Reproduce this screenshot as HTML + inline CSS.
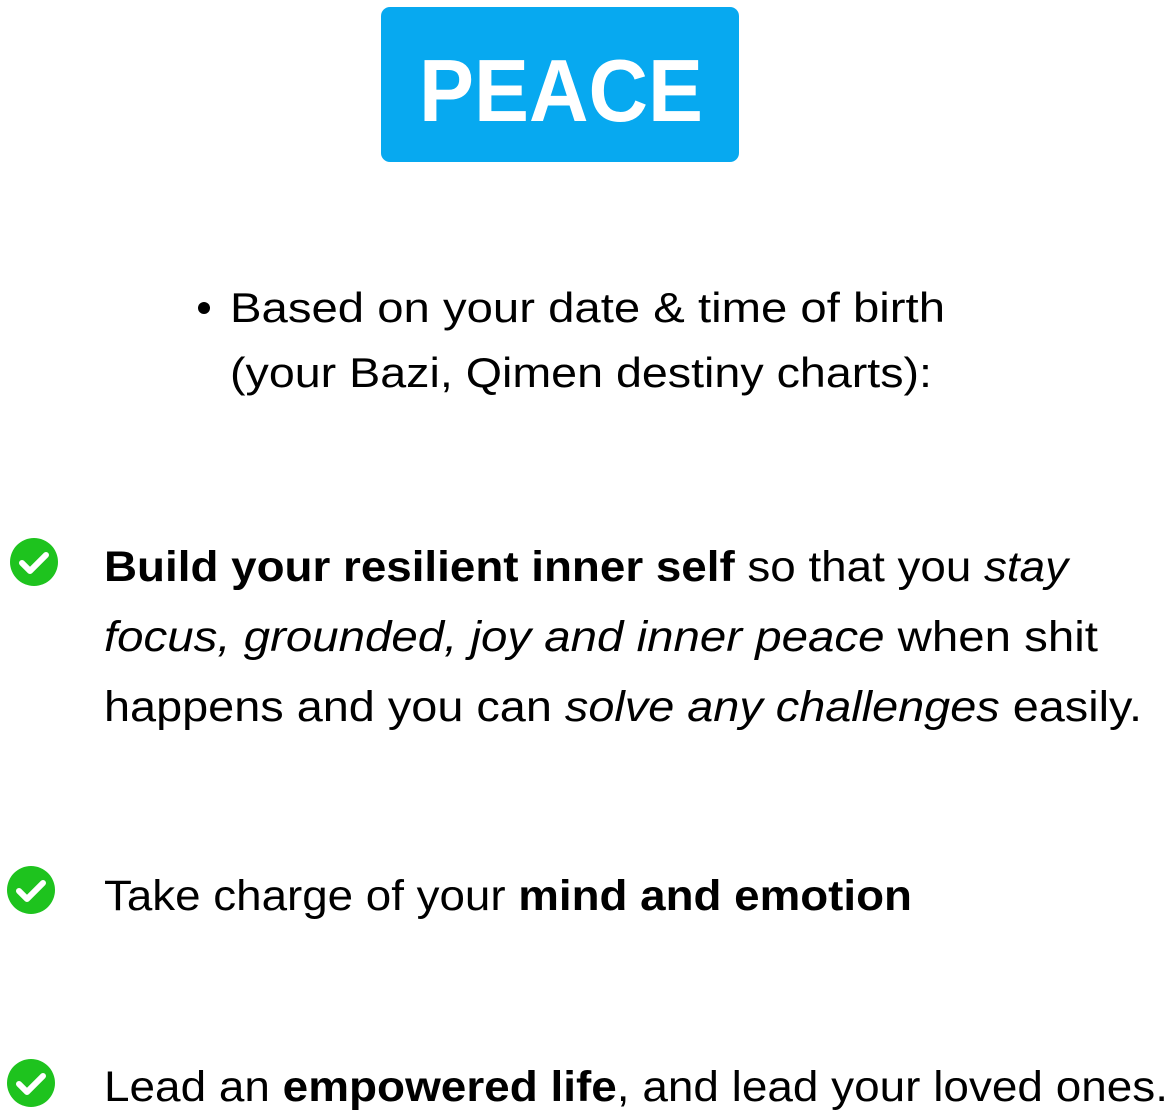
<!DOCTYPE html>
<html><head><meta charset="utf-8"><style>
html,body{margin:0;padding:0;background:#fff;width:1175px;height:1116px;overflow:hidden}
svg{display:block}
text{font-family:"Liberation Sans",sans-serif;fill:#000}
</style></head><body>
<svg width="1175" height="1116" viewBox="0 0 1175 1116" xmlns="http://www.w3.org/2000/svg">
<rect x="381" y="7" width="358" height="155" rx="9" fill="#07a9f0"/>
<text x="561" y="121" text-anchor="middle" font-size="88" font-weight="bold" style="fill:#fff" textLength="284" lengthAdjust="spacingAndGlyphs">PEACE</text>
<circle cx="204" cy="308" r="6" fill="#000"/>
<text x="230" y="322" font-size="42" textLength="715" lengthAdjust="spacingAndGlyphs">Based on your date &amp; time of birth</text>
<text x="230" y="387" font-size="42" textLength="702" lengthAdjust="spacingAndGlyphs">(your Bazi, Qimen destiny charts):</text>

<g>
<circle cx="34" cy="562" r="24" fill="#1ec31e"/>
<path d="M22 563 L30 571 L46 555" stroke="#fff" stroke-width="6" fill="none" stroke-linecap="round" stroke-linejoin="round"/>
</g>
<text x="104" y="581" font-size="43" textLength="964" lengthAdjust="spacingAndGlyphs"><tspan font-weight="bold">Build your resilient inner self</tspan> so that you <tspan font-style="italic">stay</tspan></text>
<text x="104" y="651" font-size="43" textLength="994" lengthAdjust="spacingAndGlyphs"><tspan font-style="italic">focus, grounded, joy and inner peace</tspan> when shit</text>
<text x="104" y="721" font-size="43" textLength="1038" lengthAdjust="spacingAndGlyphs">happens and you can <tspan font-style="italic">solve any challenges</tspan> easily.</text>

<g>
<circle cx="31" cy="890" r="24" fill="#1ec31e"/>
<path d="M19 891 L27 899 L43 883" stroke="#fff" stroke-width="6" fill="none" stroke-linecap="round" stroke-linejoin="round"/>
</g>
<text x="104" y="910" font-size="43" textLength="808" lengthAdjust="spacingAndGlyphs">Take charge of your <tspan font-weight="bold">mind and emotion</tspan></text>

<g>
<circle cx="31" cy="1083" r="24" fill="#1ec31e"/>
<path d="M19 1084 L27 1092 L43 1076" stroke="#fff" stroke-width="6" fill="none" stroke-linecap="round" stroke-linejoin="round"/>
</g>
<text x="104" y="1101" font-size="43" textLength="1064" lengthAdjust="spacingAndGlyphs">Lead an <tspan font-weight="bold">empowered life</tspan>, and lead your loved ones.</text>
</svg>
</body></html>
